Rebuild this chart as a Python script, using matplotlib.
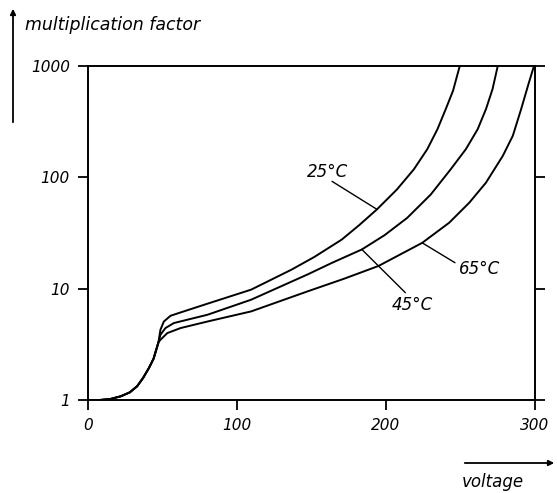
import matplotlib.pyplot as plt

# shared rise before the curves separate
v_common = [0, 8, 15, 22, 28, 33, 37, 41, 44, 47.3]
m_common = [1.0, 1.0, 1.02, 1.08, 1.17, 1.33, 1.58, 1.95, 2.35, 3.3]

v_25 = [48.6, 50.9, 55.4, 62.2, 80.2, 109.5, 136.5, 152.0, 170.3, 182.0, 193.9, 207.4, 218.7, 227.7, 234.5, 240.1, 245.0, 249.5]
m_25 = [4.27, 5.07, 5.71, 6.12, 7.33, 9.8, 14.8, 19.3, 27.6, 37.2, 51.5, 78, 118, 179, 270, 410, 600, 1000]

v_45 = [48.6, 52.0, 57.6, 80.2, 109.5, 147.8, 163.5, 183.8, 199.0, 214.2, 230.0, 243.4, 253.6, 261.5, 267.1, 271.5, 275.0]
m_45 = [3.85, 4.43, 4.91, 5.83, 7.96, 13.5, 17.0, 22.5, 30.2, 43.2, 70, 118, 179, 270, 410, 620, 1000]

v_65 = [48.6, 53.2, 62.2, 80.2, 109.5, 147.8, 172.0, 195.0, 224.3, 242.4, 255.9, 267.1, 278.4, 285.1, 290.7, 295.5, 299.3]
m_65 = [3.47, 3.99, 4.43, 5.07, 6.25, 9.5, 12.3, 16.0, 25.8, 39.1, 59.2, 89.6, 156, 236, 410, 680, 1000]

labels = ["25°C", "45°C", "65°C"]

plt.rcParams['font.family'] = ['DejaVu Sans']
fig = plt.figure(figsize=(5.57, 4.93), dpi=100)
ax = fig.add_axes([88 / 557, 1 - 400 / 493, (535 - 88) / 557, (400 - 66) / 493])

for v, m in [(v_25, m_25), (v_45, m_45), (v_65, m_65)]:
    ax.plot(v_common + v, m_common + m, color='black', lw=1.4,
            solid_joinstyle='round', solid_capstyle='round')

ax.set_yscale('log')
ax.set_xlim(0, 300)
ax.set_ylim(1, 1000)
ax.set_xticks([0, 100, 200, 300])
ax.set_xticklabels(['0', '100', '200', '300'])
ax.set_yticks([1, 10, 100, 1000])
ax.set_yticklabels(['1', '10', '100', '1000'])
ax.minorticks_off()
ax.tick_params(direction='out', length=7, width=1.3, labelsize=11, right=True, pad=6)
for lab in ax.get_xticklabels() + ax.get_yticklabels():
    lab.set_fontstyle('italic')
for sp in ax.spines.values():
    sp.set_linewidth(1.4)

# curve labels and leader lines
ax.text(161, 111, labels[0], fontsize=12, style='italic', ha='center', va='center')
ax.text(218, 7.2, labels[1], fontsize=12, style='italic', ha='center', va='center')
ax.text(263, 15.1, labels[2], fontsize=12, style='italic', ha='center', va='center')
leader = dict(arrowstyle='-', color='black', lw=1.0, shrinkA=0, shrinkB=0)
ax.annotate('', xy=(194, 51.5), xytext=(163.8, 92), arrowprops=leader)
ax.annotate('', xy=(183.8, 22.5), xytext=(213, 9.2), arrowprops=leader)
ax.annotate('', xy=(224.3, 25.8), xytext=(246.3, 17.1), arrowprops=leader)

# axis names with arrows
fig.text(25 / 557, 1 - 25 / 493, 'multiplication factor', fontsize=12.5, style='italic',
         ha='left', va='center')
fig.text(462 / 557, 1 - 482 / 493, 'voltage', fontsize=12, style='italic',
         ha='left', va='center')
ax.annotate('', xy=(13, 493 - 6), xytext=(13, 493 - 125), xycoords='figure pixels',
            textcoords='figure pixels',
            arrowprops=dict(arrowstyle='-|>', color='black', lw=1.3, mutation_scale=8))
ax.annotate('', xy=(557, 493 - 463), xytext=(462, 493 - 463), xycoords='figure pixels',
            textcoords='figure pixels',
            arrowprops=dict(arrowstyle='-|>', color='black', lw=1.3, mutation_scale=8))

fig.savefig('out.png', dpi=100)
